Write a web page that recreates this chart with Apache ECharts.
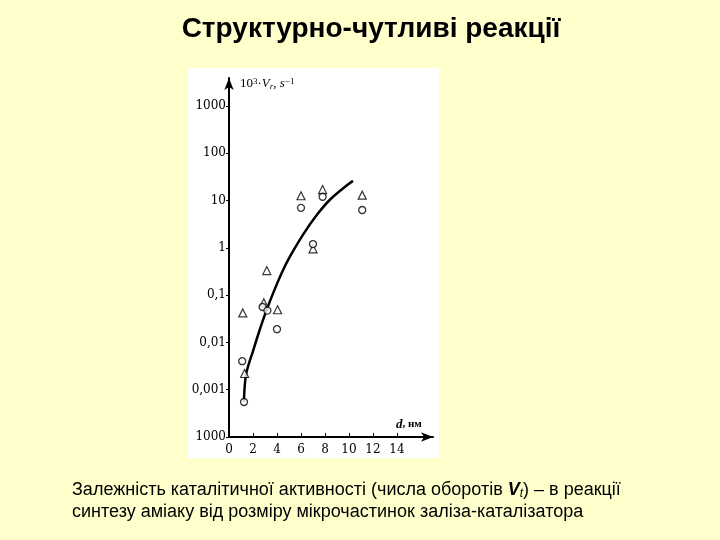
<!DOCTYPE html>
<html>
<head>
<meta charset="utf-8">
<script src="https://cdn.jsdelivr.net/npm/echarts@6/dist/echarts.min.js"></script>
<style>
html,body{margin:0;padding:0;background:#FFFFCC;}
#c{width:720px;height:540px;}
</style>
</head>
<body>
<div id="c"></div>
<script>
// Data
var xTicks = [0, 2, 4, 6, 8, 10, 12, 14];
var yTicks = [0.0001, 0.001, 0.01, 0.1, 1, 10, 100, 1000];
var yTickLabels = ['1000', '0,001', '0,01', '0,1', '1', '10', '100', '1000'];

var triD = [1.15, 1.3, 2.9, 3.15, 4.05, 6.0, 7.0, 7.8, 11.1];
var triV = [0.042, 0.0022, 0.069, 0.33, 0.049, 12.6, 0.95, 17, 13];

var circD = [1.1, 1.25, 2.8, 3.2, 4.0, 6.0, 7.0, 7.8, 11.1];
var circV = [0.004, 0.00055, 0.056, 0.047, 0.019, 7, 1.2, 12, 6.3];

var curveD = [1.24, 1.30, 1.42, 1.65, 1.98, 2.48, 3.06, 3.72, 4.46, 5.12, 6.2, 7.36, 8.43, 9.83, 10.33];
var curveV = [0.00055, 0.0011, 0.0021, 0.0035, 0.0063, 0.016, 0.043, 0.117, 0.32, 0.68, 1.95, 5.1, 10.5, 21, 26];

function zip(a, b) { return a.map(function (v, i) { return [v, b[i]]; }); }

var chart = echarts.init(document.getElementById('c'));
var serif = '"DejaVu Serif", "Liberation Serif", serif';
var lserif = '"Liberation Serif", "DejaVu Serif", serif';
var sans = '"Liberation Sans", Arial, sans-serif';

chart.setOption({
  backgroundColor: '#FFFFCC',
  animation: false,
  grid: { left: 229, right: 287, top: 78, bottom: 103 },
  xAxis: {
    type: 'value', min: 0, max: 17, interval: 2,
    splitLine: { show: false },
    axisLine: { lineStyle: { color: '#000', width: 2 }, symbol: ['none', 'arrow'], symbolSize: [7, 12] },
    axisTick: { inside: true, length: 4, customValues: xTicks, lineStyle: { color: '#000' } },
    axisLabel: { customValues: xTicks, color: '#000', fontFamily: serif, fontSize: 12, margin: 7 }
  },
  yAxis: {
    type: 'log', logBase: 10, min: 0.0001, max: 3890,
    splitLine: { show: false },
    axisLine: { lineStyle: { color: '#000', width: 2 }, symbol: ['none', 'arrow'], symbolSize: [7, 12] },
    axisTick: { length: 3, customValues: yTicks, lineStyle: { color: '#000' } },
    axisLabel: {
      customValues: yTicks, color: '#000', fontFamily: serif, fontSize: 12, margin: 3,
      formatter: function (v) {
        for (var i = 0; i < yTicks.length; i++) {
          if (Math.abs(Math.log10(v) - Math.log10(yTicks[i])) < 1e-6) return yTickLabels[i];
        }
        return '';
      }
    }
  },
  graphic: [
    { type: 'rect', z: -10, silent: true, shape: { x: 188, y: 68, width: 251, height: 390 }, style: { fill: '#ffffff' } },
    { type: 'text', x: 371, y: 15, silent: true, style: { text: 'Структурно-чутливі реакції', font: 'bold 28px ' + sans, fill: '#000', textAlign: 'center' } },
    { type: 'text', x: 240, y: 77, silent: true, style: {
        text: '10{sup|3}·{i|V}{sub|r}, {i|s}{sup|−1}',
        font: '13px ' + lserif, fill: '#000',
        rich: {
          sup: { fontSize: 9, verticalAlign: 'top', fontFamily: lserif, padding: [0, 0, 5, 0] },
          sub: { fontSize: 9, fontStyle: 'italic', fontFamily: lserif, padding: [5, 0, 0, 0] },
          i: { fontStyle: 'italic', fontSize: 13, fontFamily: lserif }
        } } },
    { type: 'text', x: 396, y: 418, silent: true, style: {
        text: '{i|d}, нм', font: 'bold 11px ' + lserif, fill: '#000',
        rich: { i: { fontStyle: 'italic', fontWeight: 'bold', fontSize: 13, fontFamily: lserif } } } },
    { type: 'text', x: 72, y: 479, silent: true, style: {
        text: 'Залежність каталітичної активності (числа оборотів {v|V}{t|t}) – в реакції\nсинтезу аміаку від розміру мікрочастинок заліза-каталізатора',
        font: '18px ' + sans, fill: '#000', lineHeight: 22,
        rich: {
          v: { fontWeight: 'bold', fontStyle: 'italic', fontSize: 18, fontFamily: sans },
          t: { fontStyle: 'italic', fontSize: 12, fontFamily: sans, padding: [7, 0, 0, 0] }
        } } }
  ],
  series: [
    {
      name: 'curve', type: 'line', smooth: 0.3, showSymbol: false, data: zip(curveD, curveV),
      lineStyle: { color: '#000', width: 2.5 }, z: 3
    },
    {
      name: 'triangles', type: 'scatter', symbol: 'triangle', symbolSize: 8, data: zip(triD, triV),
      itemStyle: { color: '#fff', borderColor: '#000', borderWidth: 1.2 }, z: 4
    },
    {
      name: 'circles', type: 'scatter', symbol: 'circle', symbolSize: 7, data: zip(circD, circV),
      itemStyle: { color: '#fff', borderColor: '#000', borderWidth: 1.3 }, z: 4
    }
  ]
});
</script>
</body>
</html>
